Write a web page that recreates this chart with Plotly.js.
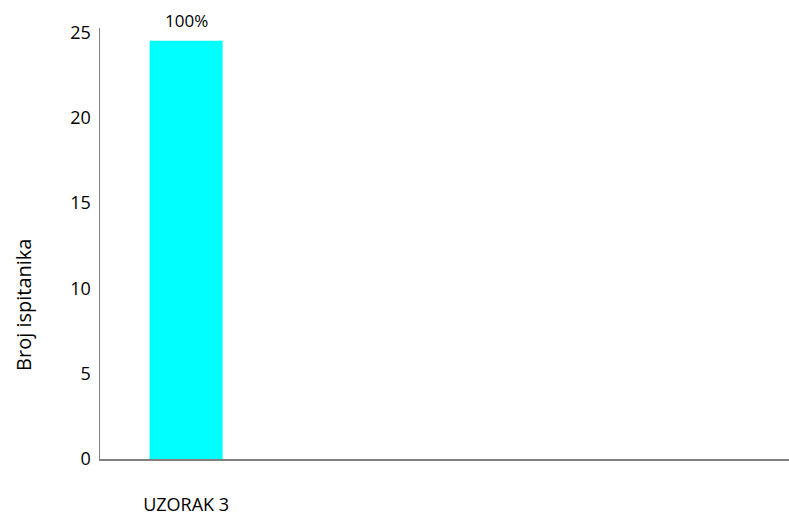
<!DOCTYPE html>
<html>
<head>
<meta charset="utf-8">
<script src="https://cdn.plot.ly/plotly-3.0.1.min.js"></script>
<style>html,body{margin:0;padding:0;background:#fff;}#chart{width:789px;height:517px;}</style>
</head>
<body>
<div id="chart"></div>
<script>
// Data
const categories = ["UZORAK 3"];
const values = [24.5];
const barLabels = ["100%"];
const yTitle = "Broj ispitanika";

const FONT = "Open Sans, Noto Sans, sans-serif";

const trace = {
  type: "bar",
  x: categories,
  y: values,
  width: 0.424,
  marker: { color: "#00FFFF", line: { width: 0 } },
  hoverinfo: "none"
};

const annotations = categories.map((c, i) => ({
  x: c, y: values[i], xref: "x", yref: "y",
  text: barLabels[i], showarrow: false,
  yanchor: "bottom", yshift: 7,
  font: { family: FONT, size: 17, color: "#000" }
}));
annotations.push({
  xref: "paper", yref: "paper", x: -0.112, y: 0.357,
  xanchor: "center", yanchor: "middle", textangle: -90,
  text: yTitle, showarrow: false,
  font: { family: FONT, size: 20, color: "#000" }
});

const layout = {
  width: 789, height: 517,
  margin: { l: 100, r: 0, t: 28, b: 58, pad: 0 },
  paper_bgcolor: "#fff", plot_bgcolor: "#fff",
  showlegend: false,
  font: { family: FONT, size: 18, color: "#000" },
  xaxis: {
    type: "category",
    range: [-0.5, 3.5],
    showline: true, linecolor: "#808080", linewidth: 1.5,
    showgrid: false, zeroline: false, ticks: "",
    ticklabelstandoff: 29,
    tickfont: { family: FONT, size: 18, color: "#000" },
    fixedrange: true
  },
  yaxis: {
    range: [0, 25.25],
    tickvals: [0, 5, 10, 15, 20, 25],
    showline: true, linecolor: "#808080", linewidth: 1.5,
    showgrid: false, zeroline: false, ticks: "",
    ticklabelstandoff: 4,
    tickfont: { family: FONT, size: 18, color: "#000" },
    fixedrange: true
  },
  annotations: annotations
};

Plotly.newPlot("chart", [trace], layout, { displayModeBar: false, staticPlot: true });
</script>
</body>
</html>
